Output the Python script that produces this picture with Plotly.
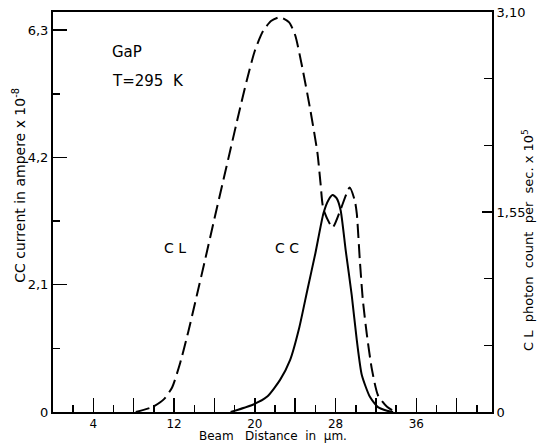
import plotly.graph_objects as go

# Beam distance (µm) and CL photon count (x10^5 per sec), right axis
cl_x = [8.2, 9.9, 11.0, 11.8, 12.6, 13.4, 14.3, 15.1, 16.0, 16.8, 17.6, 18.4, 19.2, 20.0,
        20.8, 21.6, 22.5, 23.4, 24.0, 24.7, 25.5, 26.2, 26.5, 26.8, 27.7, 28.5, 29.4,
        29.9, 30.1, 30.4, 30.7, 31.1, 31.6, 32.2, 33.1, 33.9]
cl_y = [0.0, 0.04, 0.10, 0.19, 0.38, 0.62, 0.92, 1.19, 1.50, 1.77, 2.04, 2.31, 2.57, 2.80,
        2.95, 3.03, 3.06, 3.02, 2.92, 2.67, 2.34, 2.01, 1.78, 1.57, 1.43, 1.57, 1.74,
        1.64, 1.54, 1.18, 0.87, 0.60, 0.33, 0.13, 0.04, 0.0]

# Beam distance (µm) and CC current (x10^-8 A), left axis
cc_x = [17.6, 19.8, 21.2, 22.5, 23.5, 24.4, 25.2, 26.0, 26.8, 27.3, 27.7, 28.1, 28.5,
        29.0, 29.6, 30.1, 30.6, 31.4, 32.2, 33.1, 33.7]
cc_y = [0.0, 0.12, 0.25, 0.53, 0.86, 1.39, 2.01, 2.62, 3.28, 3.50, 3.58, 3.53, 3.33,
        2.67, 1.93, 1.19, 0.61, 0.25, 0.08, 0.02, 0.0]

x_major = [4, 8, 12, 16, 20, 24, 28, 32, 36, 40]
x_labels = ["4", "", "12", "", "20", "", "28", "", "36", ""]
left_ticks = [0, 2.1, 4.2, 6.3]
left_labels = ["0", "2,1", "4,2", "6,3"]
right_ticks = [0, 1.55, 3.10]
right_labels = ["0", "1,55", "3,10"]

FONT = "DejaVu Sans"

fig = go.Figure()
fig.add_trace(go.Scatter(x=cl_x, y=cl_y, mode="lines", yaxis="y2",
                         line=dict(color="black", width=2, dash="14px,6px", shape="spline", smoothing=0.6),
                         showlegend=False, hoverinfo="skip"))
fig.add_trace(go.Scatter(x=cc_x, y=cc_y, mode="lines", yaxis="y",
                         line=dict(color="black", width=2, shape="spline", smoothing=0.6),
                         showlegend=False, hoverinfo="skip"))

tick_common = dict(ticks="inside", tickwidth=1.5, tickcolor="black", showgrid=False,
                   zeroline=False, showline=True, linecolor="black", linewidth=2,
                   automargin=False)

fig.update_layout(
    width=538, height=443,
    margin=dict(l=53, r=46, t=12, b=31, autoexpand=False),
    paper_bgcolor="white", plot_bgcolor="white",
    font=dict(family=FONT, size=12, color="black"),
    xaxis=dict(range=[0, 43.5], mirror=True, ticklen=14,
               tickvals=x_major, ticktext=x_labels, tickfont=dict(size=12),
               minor=dict(ticks="inside", ticklen=7, tickwidth=1.5, tickcolor="black", dtick=2, tick0=0),
               **tick_common),
    yaxis=dict(range=[0, 6.6], ticklen=14,
               tickvals=left_ticks, ticktext=left_labels, tickfont=dict(size=13),
               minor=dict(ticks="inside", ticklen=7, tickwidth=1.5, tickcolor="black", dtick=1.05, tick0=0),
               **tick_common),
    yaxis2=dict(range=[0, 3.10], overlaying="y", side="right", ticklen=10,
                tickvals=right_ticks, ticktext=right_labels, tickfont=dict(size=13),
                minor=dict(ticks="inside", ticklen=8, tickwidth=1.5, tickcolor="black", dtick=1.55/3, tick0=0),
                **tick_common),
)

ann = [
    dict(text="GaP", x=0.13, y=0.90, xanchor="left", yanchor="middle", font=dict(size=15)),
    dict(text="T=295  K", x=0.13, y=0.8275, xanchor="left", yanchor="middle", font=dict(size=15)),
    dict(text="C L", x=0.278, y=0.41, xanchor="center", yanchor="middle", font=dict(size=14)),
    dict(text="C C", x=0.533, y=0.41, xanchor="center", yanchor="middle", font=dict(size=14)),
    dict(text="CC current in ampere x 10<sup>-8</sup>", x=-0.078, y=0.5675, textangle=-90,
         xanchor="center", yanchor="middle", font=dict(size=14)),
    dict(text="C L  photon  count  per  sec. x 10<sup>5</sup>", x=1.082, y=0.43, textangle=-90,
         xanchor="center", yanchor="middle", font=dict(size=13)),
    dict(text="Beam   Distance  in  µm.", x=0.501, y=-0.06, xanchor="center", yanchor="middle",
         font=dict(size=12)),
]
for a in ann:
    a.update(xref="paper", yref="paper", showarrow=False)
fig.update_layout(annotations=ann)

fig.write_html("out.html", config={"displayModeBar": False, "staticPlot": True},
               post_script="document.body.style.margin='0px';document.body.style.overflow='hidden';")
